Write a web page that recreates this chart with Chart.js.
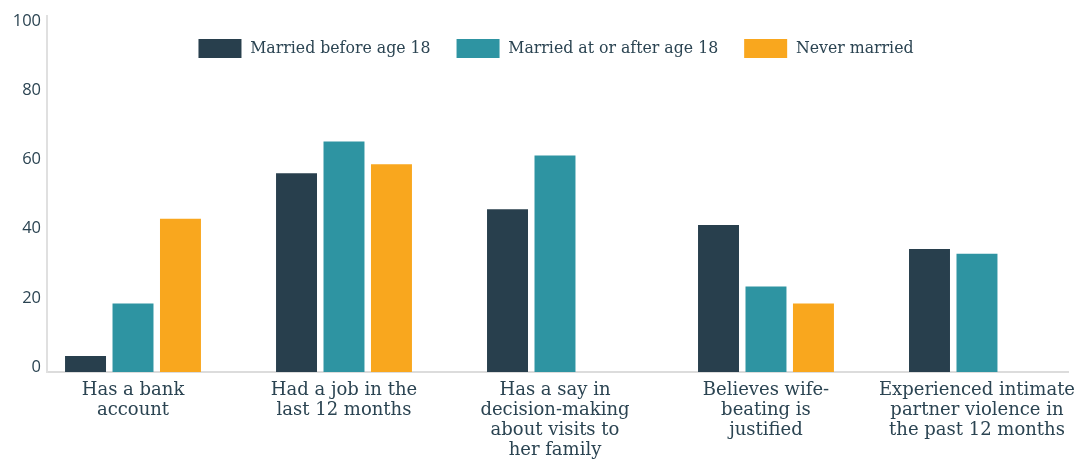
<!DOCTYPE html>
<html lang="en">
<head>
<meta charset="UTF-8">
<title>Outcomes by marital status</title>
<script src="https://cdn.jsdelivr.net/npm/chart.js@4"></script>
<style>
  body { margin: 0; background: #fff; }
  #wrap { width: 1086px; height: 463px; }
</style>
</head>
<body>
<div id="wrap"><canvas id="outcomeChart" width="1086" height="463"></canvas></div>
<script>
const categories = [
  ['Has a bank', 'account'],
  ['Had a job in the', 'last 12 months'],
  ['Has a say in', 'decision-making', 'about visits to', 'her family'],
  ['Believes wife-', 'beating is', 'justified'],
  ['Experienced intimate', 'partner violence in', 'the past 12 months']
];
const seriesNames = ['Married before age 18', 'Married at or after age 18', 'Never married'];
const marriedBefore18 = [4.6, 57.5, 47.1, 42.5, 35.6];
const marriedAfter18 = [19.8, 66.7, 62.6, 24.7, 34.2];
const neverMarried = [44.3, 60.1, null, 19.8, null];
const yTicks = [0, 20, 40, 60, 80, 100];

const textColor = '#2b4452';
const colors = ['#283f4d', '#2e94a2', '#f9a71e'];

// legend floats over the top of the plot instead of pushing it down
const legendOverlay = {
  id: 'legendOverlay',
  beforeUpdate(chart) {
    const lg = chart.legend;
    if (lg && !lg._overlay) {
      const fit = lg.fit.bind(lg);
      lg.fit = function () { fit(); this._realHeight = this.height; this.height = 0; };
      lg._overlay = true;
    }
  },
  afterLayout(chart) {
    const lg = chart.legend;
    if (lg && lg._realHeight) {
      lg.top -= 3;
      lg.left += 22;
      lg.right += 22;
      lg.height = lg._realHeight;
      lg.bottom = lg.top + lg._realHeight;
    }
  }
};

const ctx = document.getElementById('outcomeChart').getContext('2d');
const chart = new Chart(ctx, {
  type: 'bar',
  data: {
    labels: categories,
    datasets: [marriedBefore18, marriedAfter18, neverMarried].map((vals, i) => ({
      label: seriesNames[i],
      data: vals,
      backgroundColor: colors[i],
      borderWidth: 0,
      categoryPercentage: 0.675,
      barPercentage: 0.863
    }))
  },
  plugins: [legendOverlay],
  options: {
    responsive: false,
    animation: false,
    layout: { padding: { top: 14, right: 18, left: 0, bottom: 0 } },
    plugins: {
      tooltip: { enabled: false },
      legend: {
        position: 'top',
        align: 'center',
        labels: {
          boxWidth: 43,
          boxHeight: 19,
          padding: 26,
          color: textColor,
          font: { family: '"DejaVu Serif Condensed", "DejaVu Serif", serif', size: 17.5 }
        }
      }
    },
    scales: {
      x: {
        grid: { display: false, drawTicks: false },
        border: { display: true, color: '#dcdcdc', width: 2 },
        ticks: {
          color: textColor,
          font: { family: '"DejaVu Serif", serif', size: 18, lineHeight: 1.11 },
          padding: 8,
          maxRotation: 0,
          minRotation: 0,
          autoSkip: false
        },
        afterFit: s => { s.height = 91; },
        // shift the categories so the groups sit where the original puts them
        afterBuildTicks: s => { s._startValue = -0.4076; s._valueRange = 4.839; }
      },
      y: {
        min: 0,
        max: 103,
        grid: { display: false, drawTicks: false },
        border: { display: true, color: '#e0e0e0', width: 2 },
        ticks: {
          color: textColor,
          font: { family: '"Open Sans", sans-serif', size: 16.5 },
          padding: 6,
          labelOffset: -5
        },
        afterBuildTicks: s => { s.ticks = yTicks.map(v => ({ value: v })); },
        afterFit: s => { s.width = 47; }
      }
    }
  }
});
</script>
</body>
</html>
